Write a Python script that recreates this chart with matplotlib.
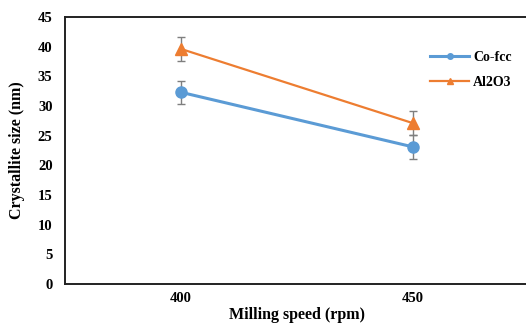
import matplotlib
matplotlib.use("Agg")
import matplotlib.pyplot as plt

speeds = ["400", "450"]
co_fcc = [32.3, 23.1]
co_fcc_err = [1.9, 2.0]
al2o3 = [39.6, 27.1]
al2o3_err = [2.0, 2.0]

plt.rcParams["font.family"] = ["Liberation Serif", "DejaVu Serif"]
plt.rcParams["font.weight"] = "bold"

fig = plt.figure(figsize=(5.26, 3.25), dpi=100)
ax = fig.add_axes([0.1236, 0.126, 0.882, 0.822])

x = list(range(len(speeds)))
c1 = ax.errorbar(x, co_fcc, yerr=co_fcc_err, color="#5B9BD5", marker="o", markersize=8,
                 lw=2.2, ecolor="#7f7f7f", elinewidth=1, capsize=3)
c2 = ax.errorbar(x, al2o3, yerr=al2o3_err, color="#ED7D31", marker="^", markersize=8,
                 lw=1.6, ecolor="#7f7f7f", elinewidth=1, capsize=3)

ax.set_xlim(-0.5, 1.5)
ax.set_ylim(0, 45)
ax.set_yticks(range(0, 46, 5))
ax.set_xticks(x)
ax.set_xticklabels(speeds)
ax.tick_params(length=0, labelsize=10.5)
ax.tick_params(axis="y", pad=9)
ax.tick_params(axis="x", pad=6)
for s in ax.spines.values():
    s.set_linewidth(1.4)
    s.set_color("#222222")

ax.set_ylabel("Crystallite size (nm)", fontsize=11.5, fontweight="bold", labelpad=9)
ax.set_xlabel("Milling speed (rpm)", fontsize=11.5, fontweight="bold", labelpad=1)

ax.legend([c1[0], c2[0]], ["Co-fcc", "Al2O3"], loc="upper left",
          bbox_to_anchor=(0.76, 0.92), frameon=False, fontsize=10,
          handlelength=2.8, handletextpad=0.3, labelspacing=0.9, markerscale=0.5)

fig.savefig("out.png", dpi=100)
